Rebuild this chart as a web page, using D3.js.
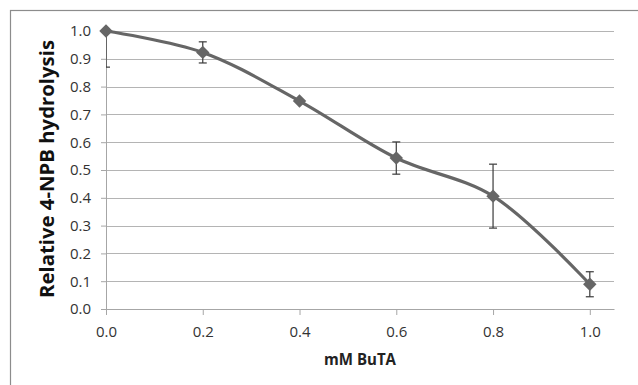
<!DOCTYPE html>
<html>
<head>
<meta charset="utf-8">
<script src="https://cdn.jsdelivr.net/npm/d3@7"></script>
<style>
  body { margin: 0; background: #fff; }
  text { font-family: "Open Sans", "Liberation Sans", sans-serif; }
</style>
</head>
<body>
<div id="chart"></div>
<script>
// data
const conc = [0.0, 0.2, 0.4, 0.6, 0.8, 1.0];
const hydrolysis = [1.0, 0.923, 0.748, 0.543, 0.406, 0.089];
const errors = [0.13, 0.038, 0.0, 0.058, 0.115, 0.045];
const yTicks = [0, 0.1, 0.2, 0.3, 0.4, 0.5, 0.6, 0.7, 0.8, 0.9, 1.0];
const xTicks = [0, 0.2, 0.4, 0.6, 0.8, 1.0];

const W = 638, H = 385;
const margin = {top: 31, right: 24, bottom: 76, left: 106},
      width = W - margin.left - margin.right,
      height = H - margin.top - margin.bottom;

const svg = d3.select("#chart")
  .append("svg")
  .attr("width", W)
  .attr("height", H);

// outer frame
svg.append("rect")
  .attr("x", 10.5).attr("y", 10.5)
  .attr("width", W).attr("height", H)
  .attr("fill", "none")
  .attr("stroke", "#8c8c8c")
  .attr("stroke-width", 1.2);

const g = svg.append("g")
  .attr("transform", `translate(${margin.left}, ${margin.top})`);

const x = d3.scaleLinear()
  .domain([0, 1.05])
  .range([0, width]);

const y = d3.scaleLinear()
  .domain([0, 1])
  .range([height, 0]);

// gridlines
g.append("g")
  .selectAll("line")
  .data(yTicks)
  .join("line")
    .attr("x1", 0).attr("x2", width)
    .attr("y1", d => Math.round(y(d)) + 0.5)
    .attr("y2", d => Math.round(y(d)) + 0.5)
    .attr("stroke", "#b4b4b4");

// Y axis
const yAxis = g.append("g")
  .call(d3.axisLeft(y).tickValues(yTicks).tickFormat(d3.format(".1f")).tickSize(5).tickSizeOuter(0));
yAxis.select(".domain").attr("stroke", "#a6a6a6");
yAxis.selectAll(".tick line").attr("stroke", "#a6a6a6");
yAxis.selectAll(".tick text")
  .attr("x", -15)
  .attr("fill", "#333")
  .style("font-size", "15px");

// X axis
const xAxis = g.append("g")
  .attr("transform", `translate(0, ${height})`)
  .call(d3.axisBottom(x).tickValues(xTicks).tickFormat(d3.format(".1f")).tickSize(6).tickSizeOuter(0));
xAxis.select(".domain").attr("stroke", "#a6a6a6");
xAxis.selectAll(".tick line").attr("stroke", "#a6a6a6");
xAxis.selectAll(".tick text")
  .attr("y", 17)
  .attr("fill", "#333")
  .style("font-size", "15px");

// axis titles
g.append("text")
  .attr("transform", `translate(${47 - margin.left}, ${169 - margin.top}) rotate(-90)`)
  .attr("text-anchor", "middle")
  .attr("dy", "0.35em")
  .attr("textLength", 258)
  .attr("lengthAdjust", "spacingAndGlyphs")
  .style("font-size", "19px")
  .style("font-weight", "bold")
  .attr("fill", "#111")
  .text("Relative 4-NPB hydrolysis");

g.append("text")
  .attr("x", 360 - margin.left)
  .attr("y", 365 - margin.top)
  .attr("text-anchor", "middle")
  .attr("textLength", 72)
  .attr("lengthAdjust", "spacingAndGlyphs")
  .style("font-size", "16px")
  .style("font-weight", "bold")
  .attr("fill", "#222")
  .text("mM BuTA");

// clip for error bars, like the chart's plot area
g.append("clipPath").attr("id", "plotClip")
  .append("rect")
  .attr("x", 0).attr("y", 0)
  .attr("width", width).attr("height", height);

const pts = conc.map((c, i) => ({x: c, y: hydrolysis[i], e: errors[i]}));

// line
g.append("path")
  .datum(pts)
  .attr("fill", "none")
  .attr("stroke", "#666")
  .attr("stroke-width", 3.2)
  .attr("d", d3.line()
    .x(d => x(d.x))
    .y(d => y(d.y))
    .curve(d3.curveCatmullRom.alpha(0.5)));

// error bars
const eb = g.append("g")
  .attr("clip-path", "url(#plotClip)")
  .selectAll("g")
  .data(pts.filter(d => d.e > 0))
  .join("g")
  .attr("stroke", "#3a3a3a")
  .attr("stroke-width", 1.2);

eb.append("line")
  .attr("x1", d => x(d.x)).attr("x2", d => x(d.x))
  .attr("y1", d => y(d.y + d.e)).attr("y2", d => y(d.y - d.e));
eb.append("line")
  .attr("x1", d => x(d.x) - 4).attr("x2", d => x(d.x) + 4)
  .attr("y1", d => y(d.y + d.e)).attr("y2", d => y(d.y + d.e));
eb.append("line")
  .attr("x1", d => x(d.x) - 4).attr("x2", d => x(d.x) + 4)
  .attr("y1", d => y(d.y - d.e)).attr("y2", d => y(d.y - d.e));

// diamond markers
g.append("g")
  .selectAll("path")
  .data(pts)
  .join("path")
    .attr("transform", d => `translate(${x(d.x)}, ${y(d.y)})`)
    .attr("d", d3.symbol().type(d3.symbolDiamond2).size(115))
    .attr("fill", "#666");
</script>
</body>
</html>
